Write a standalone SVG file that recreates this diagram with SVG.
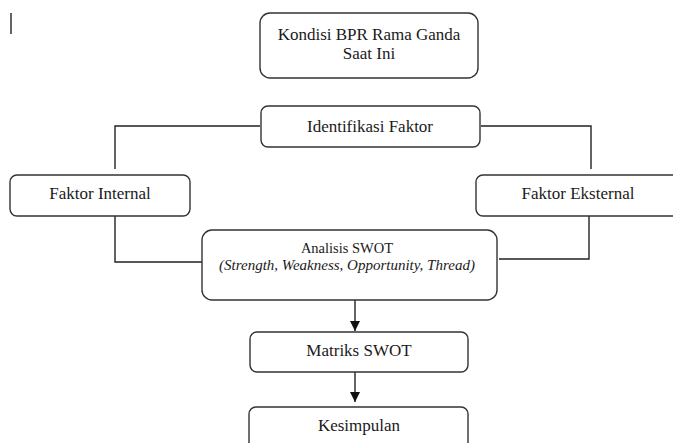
<svg xmlns="http://www.w3.org/2000/svg" width="673" height="443" viewBox="0 0 673 443">
<style>
.box{fill:#fff;stroke:#333;stroke-width:1.4}
.t{font-size:17px;fill:#1a1a1a;text-anchor:middle}
.ti{font-style:italic;font-size:15px}
.c{fill:none;stroke:#222;stroke-width:1.4}
</style>
<defs>
<marker id="ah" markerWidth="10" markerHeight="10" refX="10" refY="5" orient="auto" markerUnits="userSpaceOnUse">
<path d="M0,0 L10,5 L0,10 Z" fill="#111"/>
</marker>
</defs>
<rect width="673" height="443" fill="#fff"/>
<line x1="11" y1="13" x2="11" y2="34" stroke="#222" stroke-width="1.4"/>
<g id="connectors">
<polyline class="c" points="260,126 115,126 115,169"/>
<polyline class="c" points="481,126 591,126 591,169"/>
<polyline class="c" points="115,216 115,262 202,262"/>
<polyline class="c" points="589,216 589,259 499,259"/>
<line class="c" x1="355" y1="300" x2="355" y2="331" marker-end="url(#ah)"/>
<line class="c" x1="355" y1="372" x2="355" y2="402" marker-end="url(#ah)"/>
</g>
<g font-family="Liberation Serif, Times New Roman, serif">
<g id="kondisi">
<rect class="box" x="260" y="13" width="218" height="65" rx="10"/>
<text class="t" x="369" y="40">Kondisi BPR Rama Ganda</text>
<text class="t" x="369" y="59">Saat Ini</text>
</g>
<g id="identifikasi">
<rect class="box" x="261" y="106" width="219" height="41" rx="7"/>
<text class="t" x="370" y="132">Identifikasi Faktor</text>
</g>
<g id="internal">
<rect class="box" x="10" y="175" width="180" height="41" rx="7"/>
<text class="t" x="100" y="199">Faktor Internal</text>
</g>
<g id="eksternal">
<rect class="box" x="476" y="175" width="204" height="41" rx="7"/>
<text class="t" x="578" y="199">Faktor Eksternal</text>
</g>
<g id="analisis">
<rect class="box" x="202" y="230" width="295" height="70" rx="10"/>
<text class="t" x="347" y="253" style="font-size:14.5px">Analisis SWOT</text>
<text class="t ti" x="347" y="270">(Strength, Weakness, Opportunity, Thread)</text>
</g>
<g id="matriks">
<rect class="box" x="250" y="332" width="218" height="40" rx="7"/>
<text class="t" x="359" y="356">Matriks SWOT</text>
</g>
<g id="kesimpulan">
<rect class="box" x="249" y="407" width="219" height="45" rx="7"/>
<text class="t" x="359" y="431">Kesimpulan</text>
</g>
</g>
</svg>
